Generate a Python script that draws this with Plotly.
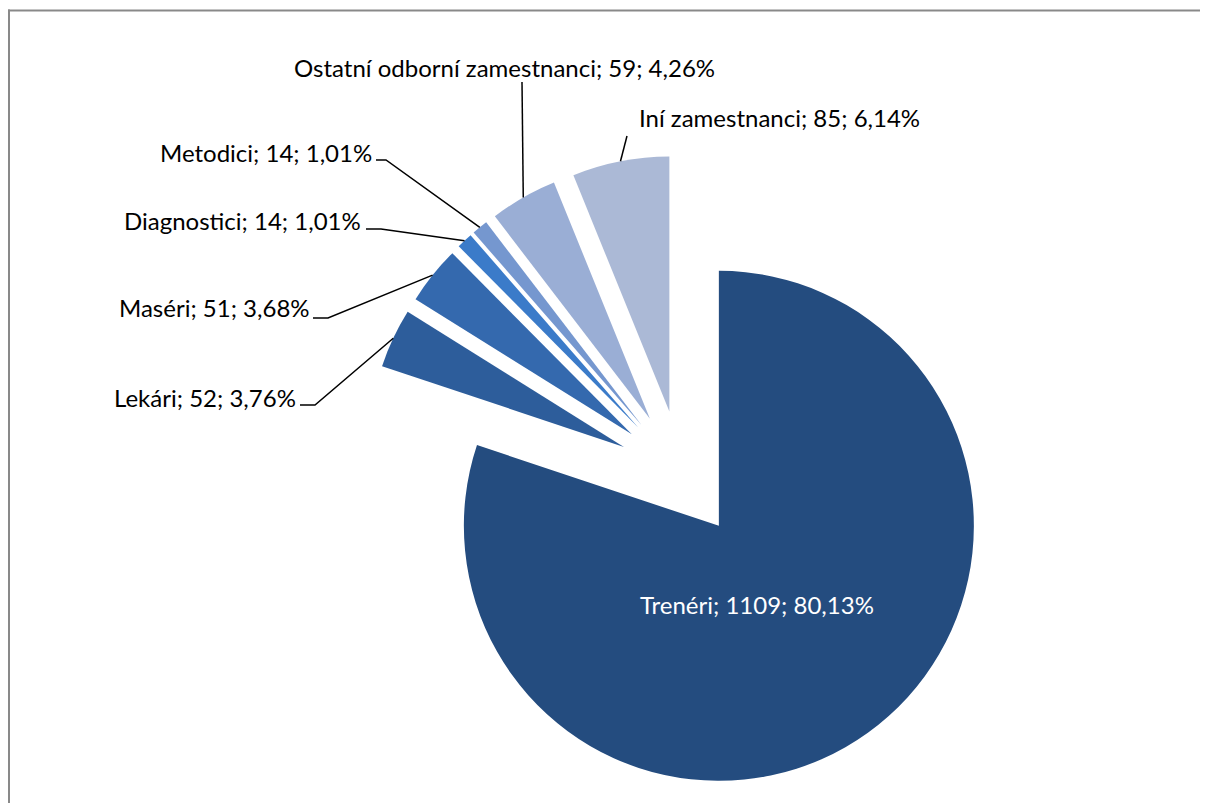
import math
import plotly.graph_objects as go

# ---- data ----
categories = ["Trenéri", "Lekári", "Maséri", "Diagnostici", "Metodici",
              "Ostatní odborní zamestnanci", "Iní zamestnanci"]
counts = [1109, 52, 51, 14, 14, 59, 85]
percent_labels = ["80,13%", "3,76%", "3,68%", "1,01%", "1,01%", "4,26%", "6,14%"]
colors = ["#244c7f", "#2d5d9b", "#3469ae", "#3b7bc9", "#7597cf", "#9aaed5", "#abb9d6"]

PAGE_W, PAGE_H = 1208, 803
OFF = 8  # page body margin
W, H = PAGE_W - OFF, PAGE_H - OFF
PULL = 0.25
# pie box (page pixels)
CX, CY = 681.6, 474.1
BOX = 637.5
R = BOX / 2 / (1 + PULL)

def px2paper_x(x):
    return min(1, max(0, (x - OFF) / W))

def px2paper_y(y):
    return min(1, max(0, 1 - (y - OFF) / H))

fig = go.Figure()
fig.add_trace(go.Pie(
    labels=categories, values=counts, sort=False, direction="clockwise", rotation=0,
    pull=[PULL] * len(counts), textinfo="none", hoverinfo="label+value+percent",
    marker=dict(colors=colors, line=dict(width=0)), showlegend=False,
    domain=dict(x=[px2paper_x(CX - BOX / 2), px2paper_x(CX + BOX / 2)],
                y=[px2paper_y(CY + BOX / 2), px2paper_y(CY - BOX / 2)]),
))

texts = [f"{c}; {v}; {p}" for c, v, p in zip(categories, counts, percent_labels)]

label_pos = {
    1: dict(x=298, y=397, anchor="right", elbow=(315, 405), tail=(300, 405)),
    2: dict(x=312, y=307, anchor="right", elbow=(328, 318), tail=(313, 318)),
    3: dict(x=363, y=220, anchor="right", elbow=(381, 229), tail=(366, 229)),
    4: dict(x=374, y=152, anchor="right", elbow=(386, 160), tail=(376, 160)),
    5: dict(x=504, y=67, anchor="center", elbow=(522, 82), tail=None),
    6: dict(x=637, y=117, anchor="left", elbow=(627, 136), tail=None),
}

total = sum(counts)
cum = 0
mids = []
for v in counts:
    mids.append((cum + v / 2) / total * 360)
    cum += v

FS = 24
shapes = []
annotations = []
for i, t in enumerate(texts):
    if i == 0:
        annotations.append(dict(x=757, y=604, text=t, showarrow=False, xref="x", yref="y",
                                font=dict(color="white", size=FS, family="Lato")))
        continue
    lp = label_pos[i]
    a = math.radians(mids[i])
    dx, dy = math.sin(a), -math.cos(a)
    px = CX + (1 + PULL) * R * dx
    py = CY + (1 + PULL) * R * dy
    if lp["tail"] is not None:
        path = f"M{lp['tail'][0]},{lp['tail'][1]} L{lp['elbow'][0]},{lp['elbow'][1]} L{px},{py}"
    else:
        path = f"M{lp['elbow'][0]},{lp['elbow'][1]} L{px},{py}"
    shapes.append(dict(type="path", path=path, xref="x", yref="y",
                       line=dict(color="black", width=1.5)))
    annotations.append(dict(x=lp["x"], y=lp["y"], text=t, showarrow=False, xref="x", yref="y",
                            xanchor=lp["anchor"], yanchor="middle",
                            font=dict(color="black", size=FS, family="Lato")))

# chart border: only top and left edges are visible
shapes.append(dict(type="line", xref="x", yref="y", x0=8, y0=10.5, x1=OFF + W, y1=10.5,
                   line=dict(color="#898989", width=2)))
shapes.append(dict(type="line", xref="x", yref="y", x0=9, y0=9.5, x1=9, y1=OFF + H,
                   line=dict(color="#898989", width=2)))

fig.update_layout(
    width=W, height=H, margin=dict(l=0, r=0, t=0, b=0),
    paper_bgcolor="white", plot_bgcolor="rgba(0,0,0,0)",
    xaxis=dict(range=[OFF, OFF + W], visible=False, fixedrange=True),
    yaxis=dict(range=[OFF + H, OFF], visible=False, fixedrange=True),
    shapes=shapes, annotations=annotations,
    font=dict(family="Lato"),
)
fig.write_html("out.html",
               post_script="document.documentElement.style.overflow='hidden';"
                           "document.body.style.overflow='hidden';")
